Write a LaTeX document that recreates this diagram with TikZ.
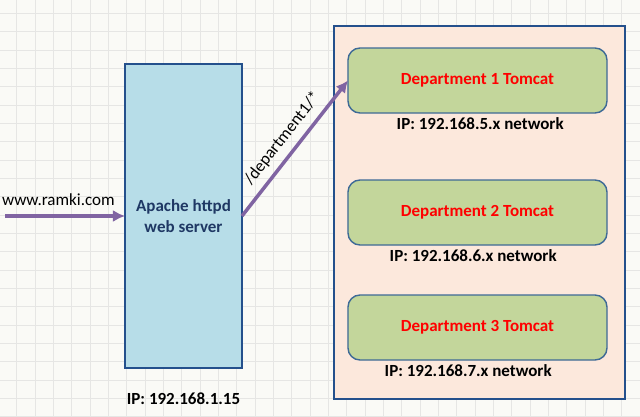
\documentclass[tikz,border=0pt]{standalone}
\usepackage{fontspec}
\setmainfont{Carlito}
\usepackage{tikz}
\usetikzlibrary{arrows.meta,positioning}
\definecolor{paper}{HTML}{FAFAF6}
\definecolor{gridgray}{HTML}{E6E6E4}
\definecolor{boxnavy}{HTML}{24508C}
\definecolor{apachefill}{HTML}{B7DDE8}
\definecolor{zonefill}{HTML}{FCE8DC}
\definecolor{tomcatfill}{HTML}{C3D69B}
\definecolor{tomcatline}{HTML}{3E6A96}
\definecolor{flowpurple}{HTML}{8064A2}
\definecolor{apachetext}{HTML}{1F3864}

\begin{document}
\begin{tikzpicture}[
    x=0.03cm, y=-0.03cm,
    >={Latex[length=3.6mm,width=3.6mm]},
    node distance=2mm,
    gridline/.style={draw=gridgray, line width=0.5pt},
    server/.style={draw=boxnavy, fill=apachefill, line width=1.6pt, inner sep=0pt, outer sep=0pt, minimum width=3.51cm, minimum height=9.12cm, align=center, font=\fontsize{14.5}{17.5}\selectfont\bfseries, text=apachetext},
    zone/.style={draw=boxnavy, fill=zonefill, line width=1.6pt, inner sep=0pt, outer sep=0pt, minimum width=8.73cm, minimum height=11.19cm},
    tomcat/.style={draw=tomcatline, fill=tomcatfill, line width=1.2pt, rounded corners=3.6mm, inner sep=0pt, outer sep=0pt, minimum width=7.77cm, minimum height=1.95cm, font=\fontsize{14.5}{17}\selectfont\bfseries, text=red},
    iplabel/.style={inner sep=0pt, font=\fontsize{14.5}{17}\selectfont\bfseries},
    flowlabel/.style={inner sep=0pt, font=\fontsize{14.5}{17}\selectfont, text=black},
    flow/.style={->, draw=flowpurple, line width=3pt}
]
\useasboundingbox (0,0) rectangle (640,416);
\fill[paper] (0,0) rectangle (640,416);
\foreach \i in {0,...,34}
  \draw[gridline] ({16.7+18.33*\i},0) -- ({16.7+18.33*\i},416);
\foreach \j in {0,...,22}
  \draw[gridline] (0,{13.3+18.33*\j}) -- (640,{13.3+18.33*\j});

% front web server
\node[server] (apache) at (183.5,216) {Apache httpd\\web server};
\node[iplabel, below=7.5mm of apache] (apacheip) {IP: 192.168.1.15};

% tomcat zone
\node[zone] (zone) at (479.5,212.5) {};
\node[tomcat] (dept1) at (477.5,80.5) {Department 1 Tomcat};
\node[tomcat] (dept2) at (477.5,212.5) {Department 2 Tomcat};
\node[tomcat] (dept3) at (477.5,327.5) {Department 3 Tomcat};
\node[iplabel, below=1.3mm of dept1, xshift=0.8mm] (ip1) {IP: 192.168.5.x network};
\node[iplabel, below=1.3mm of dept2, xshift=-1.3mm] (ip2) {IP: 192.168.6.x network};
\node[iplabel, below=1.3mm of dept3, xshift=-2.8mm] (ip3) {IP: 192.168.7.x network};

% request flow
\coordinate (client) at (5,216);
\draw[flow] (client) -- node[flowlabel, above=2.6mm, xshift=-2mm] (url) {www.ramki.com} (apache.west);
\draw[flow] (apache.east) -- node[flowlabel, sloped, above=2mm] (route) {/department1/*} (dept1.west);
\end{tikzpicture}
\end{document}
